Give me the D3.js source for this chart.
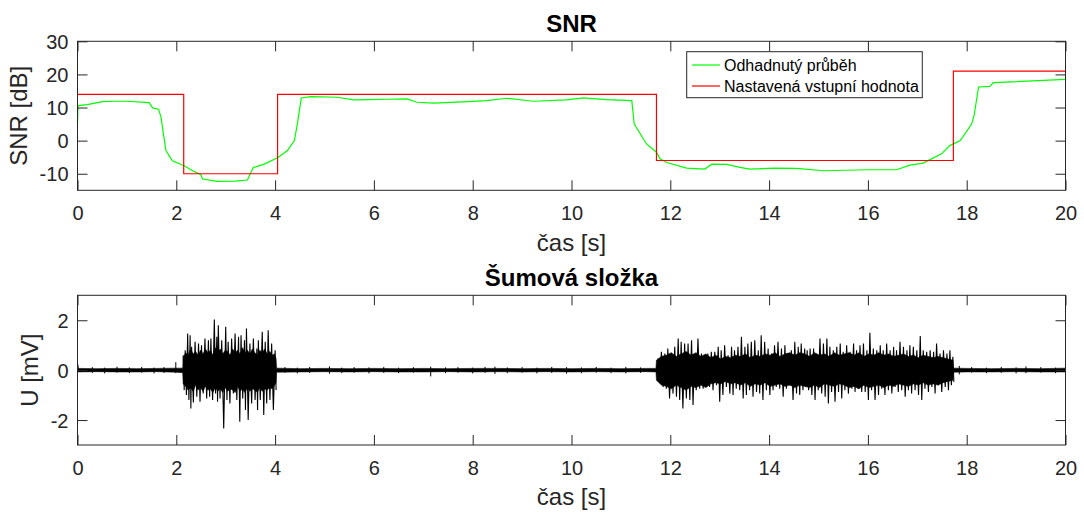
<!DOCTYPE html>
<html>
<head>
<meta charset="utf-8">
<script src="https://cdn.jsdelivr.net/npm/d3@7"></script>
<style>
  html, body { margin: 0; padding: 0; background: #fff; }
  svg { display: block; font-family: "Liberation Sans", Arial, sans-serif; }
</style>
</head>
<body>
<svg id="chart" width="1084" height="512"></svg>
<script>
// ---- data -----------------------------------------------------------------
const xTicks = [0, 2, 4, 6, 8, 10, 12, 14, 16, 18, 20];
const snrTicks = [-10, 0, 10, 20, 30];
const uTicks = [-2, 0, 2];

// estimated SNR [dB]
const estT = [0, 0.01, 0.2, 0.5, 0.75, 1.0, 1.45, 1.52, 1.64, 1.69, 1.75, 1.79, 1.92, 2.16, 2.33, 2.5, 2.53, 2.83, 3.2, 3.44, 3.51, 3.56, 3.78, 4.05, 4.25, 4.39, 4.45, 4.53, 4.72, 5.26, 5.59, 5.9, 6.3, 6.67, 6.87, 7.2, 7.8, 8.28, 8.69, 9.23, 9.9, 10.24, 10.71, 11.22, 11.27, 11.52, 11.72, 11.79, 11.93, 12.33, 12.7, 12.84, 13.14, 13.41, 13.61, 14.1, 14.56, 15.1, 16.0, 16.58, 16.85, 17.12, 17.49, 17.66, 17.87, 18.1, 18.15, 18.24, 18.47, 18.54, 20];
const estV = [5.2, 10.6, 10.9, 11.8, 11.9, 11.9, 11.5, 9.9, 9.5, 7.1, 1.0, -3.0, -6.1, -7.6, -9.1, -10.3, -11.6, -12.3, -12.2, -11.9, -9.6, -8.1, -7.1, -5.2, -3.0, 0, 5, 12.9, 13.3, 13.1, 12.3, 12.4, 12.5, 12.6, 11.6, 11.3, 11.7, 12.1, 12.8, 11.9, 12.3, 12.9, 12.4, 12.1, 5.0, -1.0, -3.5, -5.5, -6.6, -8.3, -8.6, -7.1, -7.2, -8.1, -8.6, -8.3, -8.4, -9.1, -8.8, -8.8, -7.4, -6.8, -4.0, -1.5, 0, 5, 7.6, 16.2, 16.4, 17.5, 18.5];

// set input SNR [dB] (piecewise constant)
const setT = [0, 2.15, 4.05, 11.72, 17.73, 20];
const setV = [14, -10, 14, -6, 21, 21];

// noise component: dense band envelope [mV], quiet parts
const quiet1T  = [0, 0.02, 0.4, 0.8, 1.2, 1.6, 2.0, 2.13];
const quiet1Hi = [0.15, 0.07, 0.06, 0.07, 0.06, 0.07, 0.08, 0.08];
const quiet1Lo = [-0.05, -0.07, -0.06, -0.07, -0.07, -0.06, -0.08, -0.1];
const quiet2T  = [4.03, 4.5, 5.0, 5.5, 6.0, 6.5, 7.0, 7.5, 8.0, 8.5, 9.0, 9.5, 10.0, 10.5, 11.0, 11.5, 11.71];
const quiet2Hi = [0.08, 0.06, 0.07, 0.06, 0.07, 0.06, 0.07, 0.06, 0.07, 0.07, 0.06, 0.07, 0.06, 0.07, 0.06, 0.07, 0.07];
const quiet2Lo = [-0.08, -0.07, -0.06, -0.07, -0.06, -0.07, -0.07, -0.06, -0.07, -0.06, -0.07, -0.06, -0.07, -0.06, -0.07, -0.06, -0.07];
const quiet3T  = [17.73, 18.0, 18.5, 19.0, 19.5, 20];
const quiet3Hi = [0.08, 0.07, 0.06, 0.07, 0.06, 0.08];
const quiet3Lo = [-0.08, -0.07, -0.07, -0.06, -0.07, -0.07];

// noise component: dense band envelope [mV], first burst
const core1T  = [2.14, 2.19, 2.24, 2.29, 2.34, 2.39, 2.44, 2.49, 2.54, 2.59, 2.64, 2.69, 2.74, 2.79, 2.84, 2.89, 2.94, 2.99, 3.04, 3.09, 3.14, 3.19, 3.24, 3.29, 3.34, 3.39, 3.44, 3.49, 3.54, 3.59, 3.64, 3.69, 3.74, 3.79, 3.84, 3.89, 3.94, 3.99, 4.02];
const core1Hi = [0.5, 0.7, 0.6, 0.85, 0.65, 0.75, 0.6, 0.8, 0.65, 0.85, 0.7, 0.8, 0.6, 0.9, 0.7, 0.85, 0.65, 0.8, 0.75, 0.6, 0.85, 0.7, 0.8, 0.65, 0.9, 0.7, 0.8, 0.65, 0.85, 0.7, 0.6, 0.8, 0.7, 0.85, 0.65, 0.75, 0.6, 0.65, 0.45];
const core1Lo = [-0.55, -0.65, -0.8, -0.7, -0.85, -0.6, -0.8, -0.7, -0.85, -0.65, -0.8, -0.75, -0.9, -0.7, -0.85, -0.75, -0.9, -0.7, -0.85, -0.75, -0.8, -0.9, -0.65, -0.85, -0.75, -0.9, -0.7, -0.85, -0.75, -0.8, -0.9, -0.7, -0.85, -0.75, -0.8, -0.7, -0.75, -0.6, -0.5];

// noise component: dense band envelope [mV], second burst
const core2T  = [11.72, 11.82, 11.92, 12.02, 12.12, 12.22, 12.32, 12.42, 12.52, 12.62, 12.72, 12.82, 12.92, 13.02, 13.12, 13.22, 13.32, 13.42, 13.52, 13.62, 13.72, 13.82, 13.92, 14.02, 14.12, 14.22, 14.32, 14.42, 14.52, 14.62, 14.72, 14.82, 14.92, 15.02, 15.12, 15.22, 15.32, 15.42, 15.52, 15.62, 15.72, 15.82, 15.92, 16.02, 16.12, 16.22, 16.32, 16.42, 16.52, 16.62, 16.72, 16.82, 16.92, 17.02, 17.12, 17.22, 17.32, 17.42, 17.52, 17.62, 17.72];
const core2Hi = [0.4, 0.55, 0.6, 0.7, 0.55, 0.65, 0.75, 0.6, 0.7, 0.55, 0.65, 0.5, 0.6, 0.45, 0.55, 0.5, 0.6, 0.55, 0.65, 0.5, 0.6, 0.55, 0.65, 0.6, 0.7, 0.55, 0.65, 0.7, 0.6, 0.7, 0.65, 0.55, 0.7, 0.6, 0.65, 0.55, 0.7, 0.6, 0.65, 0.7, 0.6, 0.7, 0.55, 0.65, 0.6, 0.7, 0.6, 0.65, 0.55, 0.6, 0.65, 0.55, 0.6, 0.5, 0.6, 0.55, 0.5, 0.55, 0.5, 0.45, 0.4];
const core2Lo = [-0.4, -0.6, -0.65, -0.75, -0.6, -0.7, -0.8, -0.65, -0.7, -0.6, -0.7, -0.55, -0.5, -0.55, -0.45, -0.55, -0.5, -0.6, -0.5, -0.65, -0.55, -0.6, -0.5, -0.65, -0.6, -0.55, -0.65, -0.6, -0.7, -0.6, -0.65, -0.7, -0.6, -0.7, -0.55, -0.6, -0.65, -0.55, -0.6, -0.7, -0.65, -0.75, -0.6, -0.7, -0.65, -0.6, -0.7, -0.6, -0.65, -0.55, -0.6, -0.65, -0.55, -0.6, -0.5, -0.6, -0.55, -0.6, -0.5, -0.45, -0.4];

// noise component: spike peaks, first burst [mV]
const burst1T  = [2.14, 2.18, 2.23, 2.28, 2.31, 2.38, 2.45, 2.51, 2.58, 2.65, 2.70, 2.77, 2.82, 2.85, 2.92, 3.00, 3.05, 3.12, 3.19, 3.26, 3.31, 3.38, 3.42, 3.49, 3.56, 3.63, 3.66, 3.74, 3.80, 3.86, 3.93, 4.00];
const burst1Hi = [0.6, 0.8, 1.47, 1.4, 0.94, 1.14, 1.07, 1.0, 1.27, 1.2, 1.27, 2.03, 1.34, 1.8, 1.2, 1.74, 1.14, 1.27, 1.47, 1.34, 1.4, 1.2, 1.67, 1.07, 1.27, 0.87, 1.2, 1.54, 1.14, 1.6, 1.07, 0.8];
const burst1Lo = [-0.8, -1.0, -1.2, -1.54, -1.3, -1.07, -1.27, -0.94, -1.14, -1.07, -1.2, -0.94, -1.27, -1.14, -2.34, -1.2, -1.34, -0.94, -1.2, -2.07, -1.14, -1.6, -2.0, -1.34, -1.2, -1.6, -1.2, -1.8, -1.34, -1.2, -1.6, -0.8];

// noise component: spike peaks, second burst [mV]
const burst2T  = [11.75, 11.82, 11.89, 11.95, 12.02, 12.09, 12.16, 12.22, 12.29, 12.36, 12.43, 12.49, 12.56, 12.63, 12.70, 12.76, 12.83, 12.90, 12.97, 13.03, 13.10, 13.17, 13.24, 13.30, 13.37, 13.44, 13.51, 13.57, 13.64, 13.71, 13.78, 13.84, 13.91, 13.98, 14.05, 14.11, 14.18, 14.25, 14.32, 14.38, 14.45, 14.52, 14.59, 14.65, 14.72, 14.77, 14.83, 14.90, 14.96, 15.03, 15.10, 15.17, 15.23, 15.30, 15.37, 15.44, 15.50, 15.57, 15.64, 15.71, 15.77, 15.84, 15.91, 15.98, 16.04, 16.11, 16.18, 16.25, 16.31, 16.38, 16.45, 16.52, 16.58, 16.65, 16.72, 16.79, 16.85, 16.92, 16.99, 17.06, 17.12, 17.19, 17.26, 17.33, 17.39, 17.46, 17.53, 17.60, 17.66, 17.72];
const burst2Hi = [0.47, 0.74, 0.67, 0.87, 0.67, 0.94, 1.27, 1.14, 1.07, 1.07, 1.2, 0.6, 1.27, 0.67, 0.54, 0.67, 0.74, 0.74, 0.94, 0.8, 1.0, 0.6, 0.94, 0.8, 0.94, 1.34, 0.94, 1.07, 1.14, 1.2, 0.8, 1.4, 1.14, 0.87, 0.67, 1.0, 1.14, 0.87, 1.0, 0.67, 0.8, 1.14, 0.94, 1.07, 0.87, 0.8, 0.87, 0.87, 0.6, 1.27, 1.07, 1.27, 0.94, 0.8, 0.94, 1.07, 0.74, 1.0, 0.74, 1.07, 0.8, 1.0, 1.07, 0.8, 1.5, 0.87, 0.8, 1.0, 0.8, 1.07, 0.8, 0.94, 0.8, 1.14, 0.94, 0.8, 1.0, 0.94, 0.8, 1.37, 0.8, 0.74, 0.8, 0.74, 1.07, 0.67, 0.8, 0.67, 0.8, 0.54];
const burst2Lo = [-0.47, -0.67, -0.74, -1.14, -0.94, -1.07, -1.2, -1.54, -1.14, -1.2, -1.4, -0.8, -0.74, -0.74, -0.6, -0.67, -0.8, -0.6, -1.27, -1.0, -0.67, -0.94, -1.0, -0.74, -0.8, -1.14, -1.0, -0.8, -1.07, -0.87, -0.94, -1.2, -0.8, -1.0, -0.8, -0.67, -0.74, -1.07, -0.74, -0.6, -1.2, -0.94, -1.0, -0.8, -0.67, -0.8, -1.0, -1.2, -0.8, -0.94, -1.07, -1.34, -0.87, -1.27, -0.87, -1.14, -0.8, -0.94, -0.74, -0.87, -0.74, -0.87, -0.87, -1.2, -0.8, -1.2, -1.0, -0.74, -1.0, -0.8, -0.94, -0.67, -0.87, -0.8, -1.07, -0.8, -0.94, -0.8, -1.0, -1.2, -0.74, -0.87, -0.67, -0.94, -0.6, -0.87, -0.67, -0.8, -0.6, -0.47];

// small blips on the quiet parts [mV]
const blipT  = [0.01, 0.3, 0.55, 0.8, 1.05, 1.3, 1.55, 1.75, 1.99, 4.2, 4.45, 4.7, 5.1, 5.35, 5.6, 5.9, 6.2, 6.5, 6.8, 7.15, 7.45, 7.7, 8.0, 8.25, 8.45, 8.7, 9.0, 9.3, 9.6, 9.9, 10.2, 10.5, 10.8, 11.1, 11.4, 17.85, 18.1, 18.4, 18.7, 19.0, 19.2, 19.5, 19.8];
const blipHi = [0.22, 0.12, 0.1, 0.14, 0.11, 0.13, 0.1, 0.12, 0.32, 0.12, 0.1, 0.13, 0.15, 0.1, 0.12, 0.11, 0.13, 0.1, 0.12, 0.14, 0.11, 0.12, 0.1, 0.13, 0.14, 0.11, 0.12, 0.1, 0.13, 0.12, 0.11, 0.13, 0.1, 0.13, 0.11, 0.17, 0.12, 0.1, 0.13, 0.11, 0.15, 0.12, 0.1];
const blipLo = [-0.05, -0.11, -0.13, -0.1, -0.12, -0.1, -0.13, -0.11, -0.12, -0.1, -0.13, -0.11, -0.14, -0.12, -0.1, -0.13, -0.11, -0.12, -0.1, -0.25, -0.12, -0.1, -0.13, -0.11, -0.15, -0.12, -0.1, -0.13, -0.11, -0.14, -0.12, -0.1, -0.12, -0.13, -0.11, -0.17, -0.1, -0.12, -0.11, -0.13, -0.12, -0.1, -0.12];

// ---- layout -----------------------------------------------------------------
const svg = d3.select("#chart");
const axisColor = "#262626";
const left = 77.5, right = 1065.5;
const top1 = 41.3, bot1 = 190.3;
const top2 = 295.3, bot2 = 445;

const x = d3.scaleLinear().domain([0, 20]).range([left, right]);
const y1 = d3.scaleLinear().domain([-15, 30]).range([bot1, top1]);
const y2 = d3.scaleLinear().domain([-3, 3]).range([bot2, top2]);

function drawAxes(y, yTicks, top, bot, id) {
  const g = svg.append("g");
  const fmt = d => String(d);
  const tick = 10;
  // bottom axis with labels
  const ax = g.append("g").attr("transform", `translate(0,${bot})`)
    .call(d3.axisBottom(x).tickValues(xTicks).tickFormat(fmt).tickSize(-tick));
  ax.selectAll("text").attr("y", 30).attr("dy", 0);
  // top axis (ticks only)
  g.append("g").attr("transform", `translate(0,${top})`)
    .call(d3.axisTop(x).tickValues(xTicks).tickFormat("").tickSize(-tick));
  // left axis with labels
  const ay = g.append("g").attr("transform", `translate(${left},0)`)
    .call(d3.axisLeft(y).tickValues(yTicks).tickFormat(fmt).tickSize(-tick));
  ay.selectAll("text").attr("x", -9).attr("dy", "0.36em");
  // right axis (ticks only)
  g.append("g").attr("transform", `translate(${right},0)`)
    .call(d3.axisRight(y).tickValues(yTicks).tickFormat("").tickSize(-tick));
  g.selectAll(".domain").remove();
  g.selectAll(".tick line").attr("stroke", axisColor).attr("stroke-width", 1);
  g.selectAll(".tick text").attr("fill", axisColor)
    .style("font-size", "20px").style("font-family", '"Liberation Sans", Arial, sans-serif');
  g.append("rect").attr("x", left).attr("y", top)
    .attr("width", right - left).attr("height", bot - top)
    .attr("fill", "none").attr("stroke", axisColor).attr("stroke-width", 1);

  svg.append("clipPath").attr("id", id).append("rect")
    .attr("x", left).attr("y", top).attr("width", right - left).attr("height", bot - top);
}

// ---- top panel: SNR -------------------------------------------------------
const plot1 = svg.append("g").attr("clip-path", "url(#clip1)");

const estLine = d3.line().x(d => x(d[0])).y(d => y1(d[1]));
plot1.append("path")
  .attr("d", estLine(estT.map((t, i) => [t, estV[i]])))
  .attr("fill", "none").attr("stroke", "#00ff00").attr("stroke-width", 1.2);

const setLine = d3.line().x(d => x(d[0])).y(d => y1(d[1])).curve(d3.curveStepAfter);
plot1.append("path")
  .attr("d", setLine(setT.map((t, i) => [t, setV[i]])))
  .attr("fill", "none").attr("stroke", "#ff0000").attr("stroke-width", 1.2);

drawAxes(y1, snrTicks, top1, bot1, "clip1");

// legend
const leg = svg.append("g");
leg.append("rect").attr("x", 686.7).attr("y", 51.7).attr("width", 235.6).attr("height", 46)
  .attr("fill", "#fff").attr("stroke", axisColor).attr("stroke-width", 1);
const legItems = [
  { label: "Odhadnutý průběh", color: "#00ff00", y: 65 },
  { label: "Nastavená vstupní hodnota", color: "#ff0000", y: 86 }
];
legItems.forEach(it => {
  leg.append("line").attr("x1", 692).attr("x2", 720).attr("y1", it.y).attr("y2", it.y)
    .attr("stroke", it.color).attr("stroke-width", 1.2);
  leg.append("text").attr("x", 724).attr("y", it.y + 5.7)
    .attr("fill", "#000").style("font-size", "16px").text(it.label);
});

svg.append("text").attr("x", (left + right) / 2).attr("y", 32)
  .attr("text-anchor", "middle").style("font-size", "24px").style("font-weight", "bold")
  .attr("fill", "#000").text("SNR");
svg.append("text").attr("x", (left + right) / 2).attr("y", 250.5)
  .attr("text-anchor", "middle").style("font-size", "24px").attr("fill", axisColor).text("čas [s]");
svg.append("text").attr("transform", `translate(26.7,${(top1 + bot1) / 2}) rotate(-90)`)
  .attr("text-anchor", "middle").style("font-size", "24px").attr("fill", axisColor).text("SNR [dB]");

// ---- bottom panel: noise component ----------------------------------------
const plot2 = svg.append("g").attr("clip-path", "url(#clip2)");

const envArea = d3.area().x(d => x(d[0])).y0(d => y2(d[2])).y1(d => y2(d[1]));
const bands = [
  [quiet1T, quiet1Hi, quiet1Lo], [core1T, core1Hi, core1Lo],
  [quiet2T, quiet2Hi, quiet2Lo], [core2T, core2Hi, core2Lo],
  [quiet3T, quiet3Hi, quiet3Lo]
];
const envPts = bands.flatMap(([T, H, L]) => T.map((t, i) => [t, H[i], L[i]]));
plot2.append("path")
  .attr("d", envArea(envPts))
  .attr("fill", "#000").attr("stroke", "#000").attr("stroke-width", 0.6);

// zigzag through each burst: peak at t_i, trough halfway to the next sample
function burstPath(T, H, L) {
  const pts = [];
  T.forEach((t, i) => {
    const xn = i < T.length - 1 ? (x(t) + x(T[i + 1])) / 2 : x(t) + 1;
    pts.push([x(t), y2(H[i])]);
    pts.push([xn, y2(L[i])]);
  });
  return d3.line()(pts);
}
[[burst1T, burst1Hi, burst1Lo], [burst2T, burst2Hi, burst2Lo]].forEach(([T, H, L]) => {
  plot2.append("path").attr("d", burstPath(T, H, L))
    .attr("fill", "none").attr("stroke", "#000").attr("stroke-width", 1.1);
});

plot2.selectAll("line.blip").data(blipT).join("line").attr("class", "blip")
  .attr("x1", d => x(d)).attr("x2", d => x(d))
  .attr("y1", (d, i) => y2(blipHi[i])).attr("y2", (d, i) => y2(blipLo[i]))
  .attr("stroke", "#000").attr("stroke-width", 1);

drawAxes(y2, uTicks, top2, bot2, "clip2");

svg.append("text").attr("x", (left + right) / 2).attr("y", 285.7)
  .attr("text-anchor", "middle").style("font-size", "24px").style("font-weight", "bold")
  .attr("fill", "#000").text("Šumová složka");
svg.append("text").attr("x", (left + right) / 2).attr("y", 505)
  .attr("text-anchor", "middle").style("font-size", "24px").attr("fill", axisColor).text("čas [s]");
svg.append("text").attr("transform", `translate(38.3,${(top2 + bot2) / 2}) rotate(-90)`)
  .attr("text-anchor", "middle").style("font-size", "24px").attr("fill", axisColor).text("U [mV]");
</script>
</body>
</html>
